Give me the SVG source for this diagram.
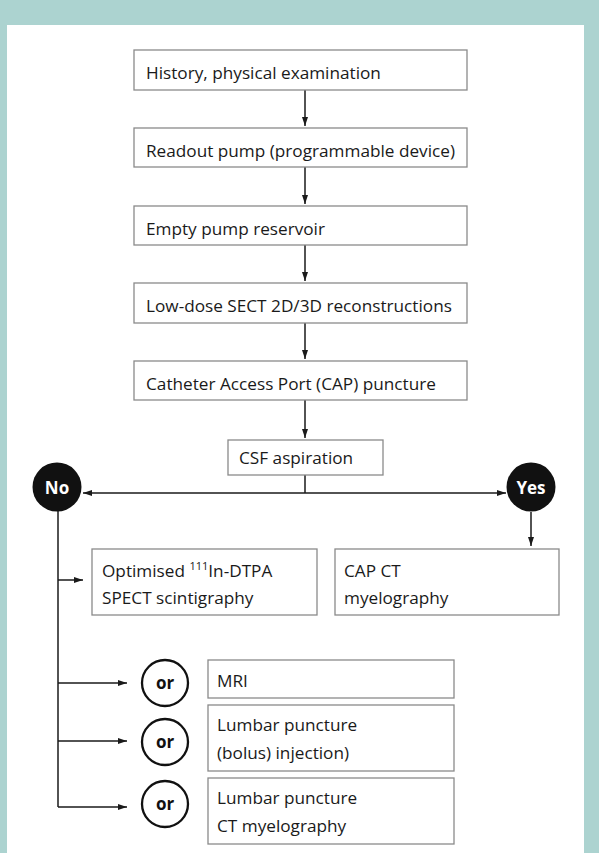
<svg xmlns="http://www.w3.org/2000/svg" width="599" height="853" viewBox="0 0 599 853">
<defs>
<marker id="ah" markerWidth="10" markerHeight="8" refX="9" refY="4" orient="auto" markerUnits="userSpaceOnUse">
<path d="M0,1 L9,4 L0,7 Z" fill="#1a1a1a"/>
</marker>
<style>
.box{fill:#fff;stroke:#8a8a8a;stroke-width:1.3}
.t{font-family:"Open Sans","Noto Sans",sans-serif;font-size:17.2px;fill:#1a1a1a}
.ln{fill:none;stroke:#1a1a1a;stroke-width:1.5}
.dc{fill:#111}
.dt{font-family:"Open Sans","Noto Sans",sans-serif;font-size:17px;font-weight:bold;fill:#fff;text-anchor:middle}
.oc{fill:#fff;stroke:#111;stroke-width:2.3}
.ot{font-family:"Open Sans","Noto Sans",sans-serif;font-size:17px;font-weight:bold;fill:#111;text-anchor:middle}
</style>
</defs>
<rect x="0" y="0" width="599" height="853" fill="#acd3d0"/>
<rect x="7" y="25" width="577" height="828" fill="#fff"/>

<g id="connectors">
<line class="ln" x1="305" y1="90" x2="305" y2="126" marker-end="url(#ah)"/>
<line class="ln" x1="305" y1="167" x2="305" y2="204" marker-end="url(#ah)"/>
<line class="ln" x1="305" y1="245" x2="305" y2="281" marker-end="url(#ah)"/>
<line class="ln" x1="305" y1="323" x2="305" y2="359" marker-end="url(#ah)"/>
<line class="ln" x1="305" y1="400" x2="305" y2="438" marker-end="url(#ah)"/>
<line class="ln" x1="305" y1="475" x2="305" y2="493"/>
<line class="ln" x1="305" y1="493" x2="83" y2="493" marker-end="url(#ah)"/>
<line class="ln" x1="305" y1="493" x2="506" y2="493" marker-end="url(#ah)"/>
<line class="ln" x1="531" y1="512" x2="531" y2="546" marker-end="url(#ah)"/>
<line class="ln" x1="58" y1="510" x2="58" y2="807"/>
<line class="ln" x1="58" y1="580" x2="83" y2="580" marker-end="url(#ah)"/>
<line class="ln" x1="58" y1="683" x2="127" y2="683" marker-end="url(#ah)"/>
<line class="ln" x1="58" y1="741" x2="127" y2="741" marker-end="url(#ah)"/>
<line class="ln" x1="58" y1="807" x2="127" y2="807" marker-end="url(#ah)"/>
</g>

<g id="n1"><rect class="box" x="134" y="50" width="333" height="40"/><text class="t" x="146" y="79">History, physical examination</text></g>
<g id="n2"><rect class="box" x="134" y="128" width="333" height="39"/><text class="t" x="146" y="157">Readout pump (programmable device)</text></g>
<g id="n3"><rect class="box" x="134" y="206" width="333" height="39"/><text class="t" x="146" y="235">Empty pump reservoir</text></g>
<g id="n4"><rect class="box" x="134" y="283" width="333" height="40"/><text class="t" x="146" y="312">Low-dose SECT 2D/3D reconstructions</text></g>
<g id="n5"><rect class="box" x="134" y="361" width="333" height="39"/><text class="t" x="146" y="390">Catheter Access Port (CAP) puncture</text></g>
<g id="n6"><rect class="box" x="228" y="440" width="155" height="35"/><text class="t" x="239" y="464">CSF aspiration</text></g>

<g id="no"><circle class="dc" cx="57" cy="487" r="24.5"/><text class="dt" x="57" y="494">No</text></g>
<g id="yes"><circle class="dc" cx="531" cy="487" r="24.5"/><text class="dt" x="531" y="494">Yes</text></g>

<g id="n7"><rect class="box" x="92" y="549" width="225" height="66"/>
<text class="t" x="102" y="577">Optimised <tspan font-size="11" dy="-7">111</tspan><tspan dy="7">In-DTPA</tspan></text>
<text class="t" x="102" y="604">SPECT scintigraphy</text></g>
<g id="n8"><rect class="box" x="335" y="549" width="224" height="66"/>
<text class="t" x="344" y="577">CAP CT</text>
<text class="t" x="344" y="604">myelography</text></g>

<g id="or1"><circle class="oc" cx="165" cy="683" r="23"/><text class="ot" x="165" y="689">or</text></g>
<g id="or2"><circle class="oc" cx="165" cy="742" r="23"/><text class="ot" x="165" y="748">or</text></g>
<g id="or3"><circle class="oc" cx="165" cy="804" r="23"/><text class="ot" x="165" y="810">or</text></g>

<g id="n9"><rect class="box" x="208" y="660" width="246" height="38"/><text class="t" x="217" y="687">MRI</text></g>
<g id="n10"><rect class="box" x="208" y="705" width="246" height="66"/>
<text class="t" x="217" y="731">Lumbar puncture</text>
<text class="t" x="217" y="759">(bolus) injection)</text></g>
<g id="n11"><rect class="box" x="208" y="778" width="246" height="66"/>
<text class="t" x="217" y="804">Lumbar puncture</text>
<text class="t" x="217" y="832">CT myelography</text></g>
</svg>
